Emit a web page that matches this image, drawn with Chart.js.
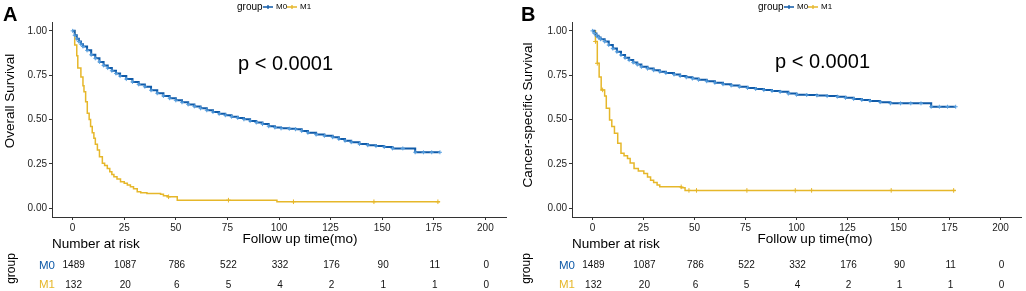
<!DOCTYPE html>
<html>
<head>
<meta charset="utf-8">
<script src="https://cdn.jsdelivr.net/npm/chart.js@4.4.1/dist/chart.umd.min.js"></script>
<style>
html, body { margin: 0; padding: 0; background: #fff; }
#wrap { position: relative; width: 1026px; height: 291px; overflow: hidden; }
.panel { position: absolute; top: 0; width: 513px; height: 291px; }
</style>
</head>
<body>
<div id="wrap">
  <div class="panel" style="left:0"><canvas id="chartA" width="513" height="291"></canvas></div>
  <div class="panel" style="left:513px"><canvas id="chartB" width="513" height="291"></canvas></div>
</div>
<script>
// ---- data ----
const timeTicks = [0, 25, 50, 75, 100, 125, 150, 175, 200];
const survTicks = [0, 0.25, 0.5, 0.75, 1];
const groupNames = ['M0', 'M1'];

// A: overall survival
const osM0Time = [0, 1, 2, 3, 4, 5, 7, 9, 11, 13, 15, 17, 19, 21, 23, 26, 29, 32, 35, 38, 41, 44, 47, 50, 53, 56, 59, 62, 65, 68, 71, 74, 77, 80, 83, 86, 89, 92, 95, 98, 101, 105, 108, 111, 114, 118, 122, 126, 129, 132, 135, 139, 143, 147, 151, 155, 160, 166, 170, 174, 178];
const osM0Surv = [1, 0.975, 0.955, 0.94, 0.925, 0.912, 0.89, 0.865, 0.845, 0.825, 0.805, 0.79, 0.775, 0.76, 0.745, 0.728, 0.712, 0.698, 0.685, 0.665, 0.648, 0.633, 0.62, 0.608, 0.597, 0.585, 0.574, 0.563, 0.552, 0.542, 0.532, 0.524, 0.516, 0.509, 0.501, 0.492, 0.483, 0.474, 0.462, 0.455, 0.45, 0.448, 0.445, 0.435, 0.425, 0.415, 0.408, 0.4, 0.39, 0.38, 0.372, 0.362, 0.355, 0.35, 0.345, 0.337, 0.337, 0.315, 0.315, 0.315, 0.315];
const osM1Time = [0, 1, 2, 2.5, 4, 5, 5.5, 6.3, 7.1, 8, 8.7, 9.5, 10.3, 11, 12, 13, 14.4, 15.5, 16.8, 18, 19, 20, 21.5, 23.2, 25, 26.5, 28, 29.5, 31.3, 33, 36, 42.6, 44, 45.9, 50.7, 99, 178];
const osM1Surv = [1, 0.92, 0.86, 0.79, 0.74, 0.69, 0.657, 0.6, 0.535, 0.5, 0.46, 0.425, 0.394, 0.36, 0.328, 0.29, 0.253, 0.24, 0.224, 0.205, 0.19, 0.177, 0.165, 0.149, 0.14, 0.13, 0.12, 0.11, 0.092, 0.087, 0.083, 0.079, 0.07, 0.064, 0.045, 0.036, 0.036];
const osM1CensorTime = [46.5, 75.5, 107, 146, 177];
const osM1CensorSurv = [0.064, 0.045, 0.036, 0.036, 0.036];
const osRiskM0 = [1489, 1087, 786, 522, 332, 176, 90, 11, 0];
const osRiskM1 = [132, 20, 6, 5, 4, 2, 1, 1, 0];

// B: cancer-specific survival
const cssM0Time = [0, 1, 2, 3, 4, 6, 8, 10, 12, 14, 16, 18, 20, 22, 24, 27, 30, 33, 36, 40, 43, 46, 49, 52, 56, 60, 64, 68, 72, 76, 80, 84, 88, 92, 96, 100, 105, 110, 115, 120, 124, 128, 132, 136, 141, 146, 151, 156, 161, 166, 170, 174, 178];
const cssM0Surv = [1, 0.985, 0.972, 0.962, 0.953, 0.94, 0.92, 0.9, 0.882, 0.864, 0.848, 0.835, 0.822, 0.81, 0.797, 0.787, 0.778, 0.77, 0.762, 0.754, 0.746, 0.738, 0.731, 0.724, 0.716, 0.707, 0.699, 0.692, 0.685, 0.678, 0.672, 0.666, 0.661, 0.656, 0.646, 0.64, 0.638, 0.636, 0.632, 0.629, 0.622, 0.616, 0.61, 0.605, 0.598, 0.591, 0.591, 0.591, 0.591, 0.572, 0.572, 0.572, 0.572];
const cssM1Time = [0, 1.5, 2.4, 3.3, 4.3, 6, 6.8, 8.4, 9.5, 10.8, 12.4, 14, 15.5, 17.2, 18.5, 20.4, 22.5, 25.2, 27, 28.5, 30, 31.7, 33, 43.5, 45.4, 178];
const cssM1Surv = [1, 0.94, 0.817, 0.74, 0.667, 0.633, 0.563, 0.497, 0.46, 0.422, 0.366, 0.309, 0.295, 0.28, 0.255, 0.224, 0.21, 0.196, 0.175, 0.158, 0.145, 0.13, 0.12, 0.115, 0.1, 0.1];
const cssM1CensorTime = [1.5, 2.4, 5, 43.5, 47.3, 51, 75.7, 99.4, 107.4, 146.4, 177];
const cssM1CensorSurv = [0.94, 0.817, 0.667, 0.12, 0.1, 0.1, 0.1, 0.1, 0.1, 0.1, 0.1];
const cssRiskM0 = [1489, 1087, 786, 522, 332, 176, 90, 11, 0];
const cssRiskM1 = [132, 20, 6, 5, 4, 2, 1, 1, 0];

const BLUE = '#0f5aa8';
const BLUE_MARK = '#5aa2e2';
const YELLOW = '#e6b72a';
const FONT = '"Liberation Sans", Arial, sans-serif';

function pts(times, vals){
    return times.map(function(t, i){ return {x: t, y: vals[i]}; });
}

// draws panel letter, legend, p value, titles and the risk table
const kmExtras = {
    id: 'kmExtras',
    afterDraw: function(chart, args, o){
        const ctx = chart.ctx;
        const xs = chart.scales.x;
        const area = chart.chartArea;
        ctx.save();

        ctx.fillStyle = '#000';
        ctx.textAlign = 'left';
        ctx.textBaseline = 'alphabetic';
        ctx.font = 'bold 20px ' + FONT;
        ctx.fillText(o.letter, o.letterX, 20.5);

        // legend
        let lx = area.left + o.legendDx;
        ctx.textBaseline = 'middle';
        ctx.font = '10px ' + FONT;
        ctx.fillStyle = '#000';
        ctx.fillText('group', lx, 7);
        lx += 26;
        [BLUE, YELLOW].forEach(function(col, i){
            ctx.strokeStyle = col;
            ctx.lineWidth = 1.3;
            ctx.beginPath();
            ctx.moveTo(lx, 7); ctx.lineTo(lx + 10, 7);
            ctx.moveTo(lx + 5, 5); ctx.lineTo(lx + 5, 9);
            ctx.stroke();
            ctx.fillStyle = '#000';
            ctx.font = '8px ' + FONT;
            ctx.fillText(groupNames[i], lx + 13, 7);
            lx += 24;
        });

        // p value
        ctx.textBaseline = 'alphabetic';
        ctx.font = '20px ' + FONT;
        ctx.fillText('p < 0.0001', o.pX, o.pY);

        // y title
        ctx.save();
        ctx.translate(o.yTitleX, o.yTitleY);
        ctx.rotate(-Math.PI / 2);
        ctx.textAlign = 'center';
        ctx.textBaseline = 'middle';
        ctx.font = '13.5px ' + FONT;
        ctx.fillText(o.yTitle, 0, 0);
        ctx.restore();

        // x title
        ctx.textAlign = 'center';
        ctx.font = '13.5px ' + FONT;
        ctx.fillText('Follow up time(mo)', o.xTitleX, 243);

        // risk table
        ctx.textAlign = 'left';
        ctx.fillText('Number at risk', area.left, 248);

        ctx.save();
        ctx.translate(o.groupX, 268.5);
        ctx.rotate(-Math.PI / 2);
        ctx.textAlign = 'center';
        ctx.textBaseline = 'middle';
        ctx.font = '12px ' + FONT;
        ctx.fillText('group', 0, 0);
        ctx.restore();

        const rows = [o.riskM0, o.riskM1];
        const rowY = [265.5, 285];
        const rowCol = [BLUE, YELLOW];
        ctx.textBaseline = 'middle';
        rows.forEach(function(row, r){
            ctx.textAlign = 'left';
            ctx.fillStyle = rowCol[r];
            ctx.font = '11.5px ' + FONT;
            ctx.fillText(groupNames[r], area.left - 13, rowY[r]);
            ctx.textAlign = 'center';
            ctx.fillStyle = '#111';
            ctx.font = '10px ' + FONT;
            row.forEach(function(v, i){
                ctx.fillText(String(v), xs.getPixelForValue(timeTicks[i]) + 1, rowY[r]);
            });
        });
        ctx.restore();
    }
};

function makeChart(id, cfg){
    return new Chart(document.getElementById(id), {
        type: 'scatter',
        data: {
            datasets: [{
                data: pts(cfg.m0Time, cfg.m0Surv),
                showLine: true,
                stepped: true,
                borderColor: BLUE,
                borderWidth: 2,
                pointStyle: 'cross',
                pointRadius: 2,
                pointBorderColor: BLUE_MARK,
                pointBorderWidth: 1,
                order: 1
            }, {
                data: pts(cfg.m1Time, cfg.m1Surv),
                showLine: true,
                stepped: true,
                borderColor: YELLOW,
                borderWidth: 1.5,
                pointRadius: 0,
                order: 2
            }, {
                data: pts(cfg.m1CensorTime, cfg.m1CensorSurv),
                showLine: false,
                pointStyle: 'cross',
                pointRadius: 2.3,
                pointBorderColor: YELLOW,
                pointBorderWidth: 1,
                order: 0
            }]
        },
        options: {
            responsive: false,
            animation: false,
            events: [],
            layout: {padding: {left: 0, right: cfg.padRight, top: 22, bottom: 54}},
            scales: {
                x: {
                    type: 'linear',
                    min: -10,
                    max: 210,
                    afterBuildTicks: function(s){ s.ticks = timeTicks.map(function(v){ return {value: v}; }); },
                    afterFit: function(s){ s.height = 20; },
                    ticks: {font: {family: FONT, size: 10}, color: '#222', padding: 2, maxRotation: 0},
                    grid: {display: true, drawOnChartArea: false, drawTicks: true, tickLength: 3, color: '#333'},
                    border: {display: true, color: '#333', width: 1}
                },
                y: {
                    type: 'linear',
                    min: -0.05,
                    max: 1.05,
                    afterBuildTicks: function(s){ s.ticks = survTicks.map(function(v){ return {value: v}; }); },
                    afterFit: function(s){ s.width = cfg.axisLeft; },
                    ticks: {
                        font: {family: FONT, size: 10},
                        color: '#222',
                        padding: 2,
                        callback: function(v){ return Number(v).toFixed(2); }
                    },
                    grid: {display: true, drawOnChartArea: false, drawTicks: true, tickLength: 3, color: '#333'},
                    border: {display: true, color: '#333', width: 1}
                }
            },
            plugins: {
                legend: {display: false},
                tooltip: {enabled: false},
                kmExtras: cfg.extras
            }
        },
        plugins: [kmExtras]
    });
}

makeChart('chartA', {
    m0Time: osM0Time, m0Surv: osM0Surv,
    m1Time: osM1Time, m1Surv: osM1Surv,
    m1CensorTime: osM1CensorTime, m1CensorSurv: osM1CensorSurv,
    axisLeft: 52, padRight: 7,
    extras: {
        letter: 'A', letterX: 3,
        legendDx: 185,
        pX: 238, pY: 70,
        yTitle: 'Overall Survival', yTitleX: 10, yTitleY: 101,
        xTitleX: 300, groupX: 12,
        riskM0: osRiskM0, riskM1: osRiskM1
    }
});

makeChart('chartB', {
    m0Time: cssM0Time, m0Surv: cssM0Surv,
    m1Time: cssM1Time, m1Surv: cssM1Surv,
    m1CensorTime: cssM1CensorTime, m1CensorSurv: cssM1CensorSurv,
    axisLeft: 59, padRight: 0,
    extras: {
        letter: 'B', letterX: 8,
        legendDx: 186,
        pX: 262, pY: 68,
        yTitle: 'Cancer-specific Survival', yTitleX: 15, yTitleY: 115,
        xTitleX: 302, groupX: 13.5,
        riskM0: cssRiskM0, riskM1: cssRiskM1
    }
});
</script>
</body>
</html>
